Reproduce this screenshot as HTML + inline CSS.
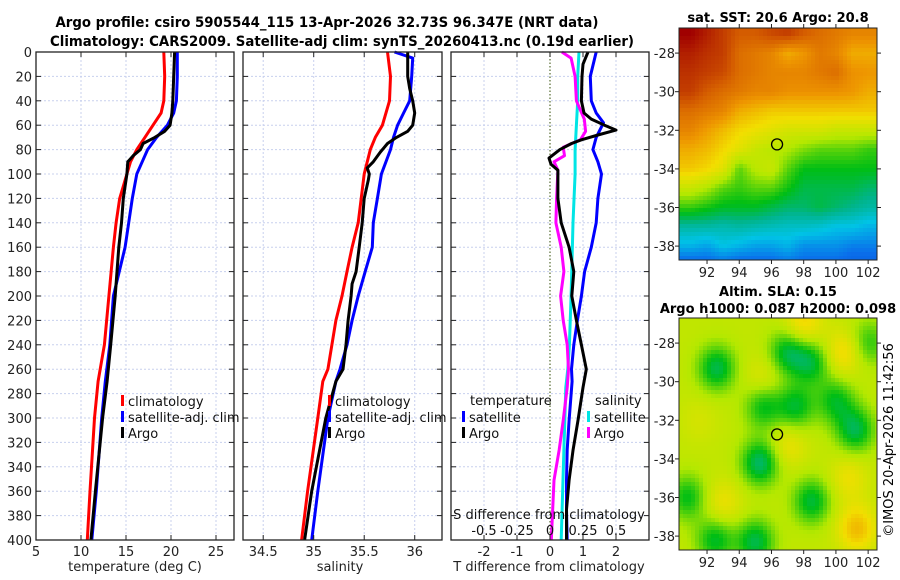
<!DOCTYPE html>
<html><head><meta charset="utf-8"><style>
html,body{margin:0;padding:0;background:#fff;}
svg{display:block;font-family:"DejaVu Sans","Liberation Sans",sans-serif;}
</style></head><body>
<svg id="fig" width="900" height="580" viewBox="0 0 900 580" xmlns="http://www.w3.org/2000/svg">
<rect x="0" y="0" width="900" height="580" fill="#fff"/>
<text x="327" y="27" font-size="14" font-weight="bold" text-anchor="middle" textLength="543" lengthAdjust="spacingAndGlyphs">Argo profile: csiro 5905544_115 13-Apr-2026 32.73S 96.347E (NRT data)</text>
<text x="342" y="46" font-size="14" font-weight="bold" text-anchor="middle" textLength="584" lengthAdjust="spacingAndGlyphs">Climatology: CARS2009. Satellite-adj clim: synTS_20260413.nc (0.19d earlier)</text>
<g id="g1"></g>
<g id="g2"></g>
<g id="g3"></g>
<g id="m1"></g>
<g id="m2"></g>
<text x="778" y="22" font-size="13" font-weight="bold" text-anchor="middle">sat. SST: 20.6 Argo: 20.8</text>
<text x="778" y="296" font-size="13" font-weight="bold" text-anchor="middle">Altim. SLA: 0.15</text>
<text x="778" y="313" font-size="13" font-weight="bold" text-anchor="middle">Argo h1000: 0.087 h2000: 0.098</text>
<text x="0" y="0" font-size="13" text-anchor="middle" transform="translate(893,440) rotate(-90)">©IMOS 20-Apr-2026 11:42:56</text>
</svg>
<script>
// ---------- profile data ----------
const tPres = [0,20,40,50,60,70,80,90,100,120,140,160,200,240,270,300,360,400];
const tClim = [19.2,19.3,19.2,18.9,18.0,17.1,16.2,15.5,15.1,14.3,13.9,13.6,13.1,12.6,11.9,11.5,11.0,10.7];
const tSat  = [20.7,20.7,20.6,20.3,19.6,18.4,17.4,16.8,16.2,15.7,15.3,14.9,13.6,13.2,12.7,12.3,11.7,11.2];
const tArgoPres = [0,20,40,50,60,65,70,75,80,85,90,100,120,140,160,200,240,270,300,360,400];
const tArgo = [20.4,20.3,20.2,20.1,19.9,19.3,18.2,16.9,16.6,15.8,15.2,15.1,14.7,14.5,14.2,13.8,13.3,12.9,12.4,11.6,11.1];

const sPres = [0,20,40,60,70,80,100,120,140,160,180,200,220,240,260,270,300,360,400];
const sClim = [35.73,35.76,35.75,35.68,35.61,35.56,35.50,35.47,35.44,35.38,35.33,35.28,35.22,35.18,35.14,35.09,35.04,34.94,34.88];
const sSatPres = [0,5,20,40,50,60,70,80,100,120,140,160,180,200,220,240,260,270,300,360,400];
const sSat = [35.80,35.98,35.97,35.95,35.89,35.83,35.79,35.76,35.67,35.63,35.59,35.58,35.51,35.44,35.38,35.33,35.26,35.22,35.14,35.04,34.98];
const sArgoPres = [0,20,30,40,50,60,65,70,75,82,90,95,100,105,120,140,160,180,190,200,220,240,260,270,300,360,400];
const sArgo = [35.93,35.93,35.95,35.98,36.00,35.98,35.93,35.82,35.73,35.66,35.59,35.53,35.55,35.54,35.50,35.48,35.45,35.42,35.38,35.37,35.34,35.32,35.29,35.22,35.12,34.98,34.91];

const dPres = [0,20,40,50,58,70,80,90,100,120,140,160,180,200,220,240,260,270,302,326,351,375,400];
const dTSat = [1.40,1.22,1.25,1.40,1.62,1.40,1.30,1.45,1.56,1.45,1.40,1.25,1.05,0.95,0.83,0.72,0.65,0.67,0.58,0.52,0.50,0.50,0.52];
const dArgoPres = [0,10,20,40,50,55,60,64,68,72,75,80,87,92,97,120,140,160,180,200,220,240,260,275,302,326,351,375,400];
const dTArgo = [1.15,1.00,0.97,0.95,1.03,1.25,1.65,2.00,1.45,0.95,0.65,0.30,-0.03,0.03,0.24,0.24,0.34,0.58,0.72,0.66,0.80,0.95,1.10,1.00,0.85,0.70,0.58,0.50,0.50];
const dSPres = [0,20,40,60,80,100,140,200,240,260,275,326,400];
const dSSat = [0.22,0.21,0.21,0.20,0.19,0.19,0.174,0.16,0.147,0.135,0.12,0.105,0.085];
const dSArgoPres = [0,5,20,40,55,65,72,78,85,90,97,120,140,160,180,200,220,240,260,275,302,326,351,400];
const dSArgo = [0.09,0.16,0.19,0.20,0.26,0.27,0.23,0.10,0.11,0.03,0.06,0.05,0.045,0.085,0.105,0.08,0.10,0.13,0.14,0.13,0.10,0.07,0.03,0.01];

const yTicks = [0,20,40,60,80,100,120,140,160,180,200,220,240,260,280,300,320,340,360,380,400];
const tTicks = [5,10,15,20,25];
const sTicks = [34.5,35,35.5,36];
const dTicks = [-2,-1,0,1,2];
const dSTickLabels = ['-0.5','-0.25','0','0.25','0.5'];

// ---------- map data ----------
const sstLon = [91,92,93,94,95,96,97,98,99,100,101,102];
const sstLat = [-27,-28,-29,-30,-31,-32,-33,-34,-35,-36,-37,-38,-38.7];
const sstVal = [
[1.0,0.95,0.9,0.85,0.85,0.88,0.9,0.85,0.82,0.8,0.78,0.78],
[0.95,0.92,0.9,0.82,0.8,0.78,0.72,0.75,0.8,0.78,0.72,0.72],
[0.92,0.9,0.88,0.82,0.8,0.78,0.78,0.78,0.8,0.82,0.76,0.75],
[0.9,0.85,0.82,0.8,0.78,0.78,0.76,0.76,0.76,0.76,0.75,0.72],
[0.82,0.8,0.78,0.72,0.7,0.68,0.68,0.68,0.68,0.68,0.68,0.68],
[0.78,0.74,0.7,0.66,0.64,0.62,0.6,0.6,0.6,0.58,0.58,0.58],
[0.72,0.7,0.66,0.62,0.58,0.56,0.55,0.52,0.5,0.5,0.5,0.48],
[0.68,0.66,0.62,0.5,0.56,0.58,0.5,0.45,0.45,0.45,0.45,0.45],
[0.58,0.55,0.5,0.48,0.5,0.5,0.46,0.42,0.42,0.42,0.42,0.4],
[0.48,0.46,0.44,0.44,0.44,0.42,0.4,0.4,0.42,0.4,0.38,0.36],
[0.36,0.36,0.35,0.36,0.35,0.34,0.33,0.33,0.32,0.3,0.3,0.28],
[0.28,0.26,0.3,0.28,0.26,0.26,0.28,0.24,0.24,0.24,0.22,0.22],
[0.2,0.2,0.22,0.2,0.2,0.2,0.22,0.2,0.2,0.2,0.18,0.18]];
const slaBase = 0.57;
const blobLon = [92.6,95.3,97.0,98.5,95.5,97.5,100.0,101.2,98.5,92.5,95.0,90.8,102.0,98.0,100.5,101.3,93.0,97.0,100.8,95.5,91.5];
const blobLat = [-29.3,-34.2,-28.5,-29.0,-31.3,-31.3,-31.0,-32.5,-36.2,-38.2,-38.3,-36.0,-28.0,-27.0,-28.5,-37.6,-36.3,-33.3,-35.0,-29.8,-32.0];
const blobAmp = [-0.15,-0.17,-0.14,-0.13,-0.12,-0.13,-0.12,-0.15,-0.14,-0.13,-0.15,-0.12,-0.1,0.1,0.1,0.13,0.07,0.07,0.07,0.05,0.03];
const mapLonTicks = [92,94,96,98,100,102];
const mapLatTicks = [-28,-30,-32,-34,-36,-38];
const argoLon = 96.347, argoLat = -32.73;

// ---------- helpers ----------
const NS='http://www.w3.org/2000/svg';
function mk(parent,tag,attrs){const e=document.createElementNS(NS,tag);for(const k in attrs)e.setAttribute(k,attrs[k]);parent.appendChild(e);return e;}
const Y0=52, Y1=540;
const yS = p => Y0 + p*(Y1-Y0)/400;

function panel(g,x0,x1,xmin,xmax,ticks){
  const xs = v => x0 + (v-xmin)*(x1-x0)/(xmax-xmin);
  yTicks.forEach(p=>{
    const l=mk(g,'line',{x1:x0,x2:x1,y1:yS(p),y2:yS(p),stroke:'#c8d0ee','stroke-width':1,'stroke-dasharray':'2,2'});
    
    
  });
  ticks.forEach(v=>{
    const l=mk(g,'line',{x1:xs(v),x2:xs(v),y1:Y0,y2:Y1,stroke:'#c8d0ee','stroke-width':1,'stroke-dasharray':'2,2'});
    
    
  });
  return xs;
}
function frame(g,x0,x1,xs,ticks,labels,showY){
  const f=mk(g,'rect',{x:x0,y:Y0,width:x1-x0,height:Y1-Y0,fill:'none',stroke:'#222','stroke-width':1.3});
  
  
  yTicks.forEach(p=>{
    mk(g,'line',{x1:x0,x2:x0+5,y1:yS(p),y2:yS(p),stroke:'#222'});
    mk(g,'line',{x1:x1-5,x2:x1,y1:yS(p),y2:yS(p),stroke:'#222'});
    if(showY){
      const t=mk(g,'text',{x:x0-4,y:yS(p)+5,'font-size':13,'text-anchor':'end',fill:'#222'});
      t.textContent=p;
      
      
    }
  });
  ticks.forEach((v,i)=>{
    mk(g,'line',{x1:xs(v),x2:xs(v),y1:Y1-5,y2:Y1,stroke:'#222'});
    mk(g,'line',{x1:xs(v),x2:xs(v),y1:Y0,y2:Y0+5,stroke:'#222'});
    const t=mk(g,'text',{x:xs(v),y:Y1+16,'font-size':13,'text-anchor':'middle',fill:'#222'});
    t.textContent=labels[i];
    
    
  });
}
function line(g,xs,vals,pres,color,name,w){
  const pts=vals.map((v,i)=>xs(v).toFixed(1)+','+yS(pres[i]).toFixed(1)).join(' ');
  const pl=mk(g,'polyline',{points:pts,fill:'none',stroke:color,'stroke-width':w||3,'stroke-linejoin':'round'});
  
  
}
function legendEntry(g,x,y,color,label){
  const r=mk(g,'rect',{x:x,y:y-11,width:3,height:11,fill:color});
  
  
  const t=mk(g,'text',{x:x+7,y:y,'font-size':13,fill:'#111'});
  t.textContent=label;
  
  
}
function xlabel(g,x,y,s){const t=mk(g,'text',{x:x,y:y,'font-size':13,'text-anchor':'middle',fill:'#222'});t.textContent=s;}

// ---------- panel 1 ----------
const g1=document.getElementById('g1');
const xs1=panel(g1,36,234,5,27,tTicks);
line(g1,xs1,tClim,tPres,'#ff0000','temp-climatology-line');
line(g1,xs1,tSat,tPres,'#0000ff','temp-satellite-line');
line(g1,xs1,tArgo,tArgoPres,'#000','temp-argo-line');
frame(g1,36,234,xs1,tTicks,tTicks.map(String),true);
legendEntry(g1,121,406,'#ff0000','climatology');
legendEntry(g1,121,422,'#0000ff','satellite-adj. clim');
legendEntry(g1,121,438,'#000','Argo');
xlabel(g1,135,571,'temperature (deg C)');

// ---------- panel 2 ----------
const g2=document.getElementById('g2');
const xs2=panel(g2,243,442,34.3,36.27,sTicks);
line(g2,xs2,sClim,sPres,'#ff0000','sal-climatology-line');
line(g2,xs2,sSat,sSatPres,'#0000ff','sal-satellite-line');
line(g2,xs2,sArgo,sArgoPres,'#000','sal-argo-line');
frame(g2,243,442,xs2,sTicks,['34.5','35','35.5','36'],false);
legendEntry(g2,328,406,'#ff0000','climatology');
legendEntry(g2,328,422,'#0000ff','satellite-adj. clim');
legendEntry(g2,328,438,'#000','Argo');
xlabel(g2,340,571,'salinity');

// ---------- panel 3 ----------
const g3=document.getElementById('g3');
const xs3=panel(g3,451,649,-3,3,[-2,-1,1,2]);
const xsS = v => xs3(v*4);
const z=mk(g3,'line',{x1:xs3(0),x2:xs3(0),y1:Y0,y2:Y1,stroke:'#556b2f','stroke-width':1.2,'stroke-dasharray':'1.5,2'});


line(g3,xsS,dSSat,dSPres,'#00e5e5','sal-diff-satellite-line');
line(g3,xsS,dSArgo,dSArgoPres,'#ff00ff','sal-diff-argo-line');
line(g3,xs3,dTSat,dPres,'#0000ff','temp-diff-satellite-line');
line(g3,xs3,dTArgo,dArgoPres,'#000','temp-diff-argo-line');
frame(g3,451,649,xs3,dTicks,dTicks.map(String),false);
{const t=mk(g3,'text',{x:470,y:405,'font-size':13,fill:'#111'});t.textContent='temperature';}
{const t=mk(g3,'text',{x:595,y:405,'font-size':13,fill:'#111'});t.textContent='salinity';}
legendEntry(g3,462,422,'#0000ff','satellite');
legendEntry(g3,462,438,'#000','Argo');
legendEntry(g3,587,422,'#00e5e5','satellite');
legendEntry(g3,587,438,'#ff00ff','Argo');
{const t=mk(g3,'text',{x:549,y:519,'font-size':13,'text-anchor':'middle',fill:'#111'});t.textContent='S difference from climatology';}
[-0.5,-0.25,0,0.25,0.5].forEach((v,i)=>{
  const t=mk(g3,'text',{x:xsS(v),y:535,'font-size':13,'text-anchor':'middle',fill:'#111'});
  t.textContent=dSTickLabels[i];
  
  
});
xlabel(g3,549,571,'T difference from climatology');

// ---------- maps ----------
const cmapStops=[[0,[0,50,190]],[0.2,[10,110,235]],[0.3,[0,195,230]],[0.38,[0,180,140]],[0.45,[0,190,20]],[0.55,[180,232,0]],[0.65,[242,222,0]],[0.75,[238,150,0]],[0.85,[212,92,0]],[1,[160,0,0]]];
function cmap(v){
  v=Math.max(0,Math.min(1,v));
  for(let i=0;i<cmapStops.length-1;i++){
    const [a,ca]=cmapStops[i],[b,cb]=cmapStops[i+1];
    if(v<=b){const t=(v-a)/(b-a);return 'rgb('+ca.map((c,k)=>Math.round(c+(cb[k]-c)*t)).join(',')+')';}
  }
  return 'rgb(160,0,0)';
}
const MX0=679,MX1=877,LON0=90.26,LON1=102.55,LAT0=-26.7,LAT1=-38.72;
function drawMap(g,y0,y1,field){
  const lx=lon=>MX0+(lon-LON0)*(MX1-MX0)/(LON1-LON0);
  const ly=lat=>y0+(lat-LAT0)*(y1-y0)/(LAT1-LAT0);
  const c=4;
  for(let y=y0;y<y1;y+=c){
    for(let x=MX0;x<MX1;x+=c){
      const lon=LON0+(x+c/2-MX0)*(LON1-LON0)/(MX1-MX0);
      const lat=LAT0+(y+c/2-y0)*(LAT1-LAT0)/(y1-y0);
      const r=mk(g,'rect',{x:x,y:y,width:Math.min(c,MX1-x)+0.3,height:Math.min(c,y1-y)+0.3,fill:cmap(field(lon,lat))});
      
      
    }
  }
  const f=mk(g,'rect',{x:MX0,y:y0,width:MX1-MX0,height:y1-y0,fill:'none',stroke:'#222','stroke-width':1});
  
  
  mapLonTicks.forEach(v=>{
    mk(g,'line',{x1:lx(v),x2:lx(v),y1:y1,y2:y1+4,stroke:'#222'});
    mk(g,'line',{x1:lx(v),x2:lx(v),y1:y0-4,y2:y0,stroke:'#222'});
    const t=mk(g,'text',{x:lx(v),y:y1+17,'font-size':13,'text-anchor':'middle',fill:'#222'});
    t.textContent=v;
    
    
  });
  mapLatTicks.forEach(v=>{
    mk(g,'line',{x1:MX0-4,x2:MX0,y1:ly(v),y2:ly(v),stroke:'#222'});
    mk(g,'line',{x1:MX1,x2:MX1+4,y1:ly(v),y2:ly(v),stroke:'#222'});
    const t=mk(g,'text',{x:MX0-4,y:ly(v)+5,'font-size':13,'text-anchor':'end',fill:'#222'});
    t.textContent=v;
    
    
  });
  const m=mk(g,'circle',{cx:lx(argoLon),cy:ly(argoLat),r:5.5,fill:'none',stroke:'#000','stroke-width':1.3});
  
  
}
function sstField(lon,lat){
  let fi=(lon-sstLon[0]); fi=Math.max(0,Math.min(sstLon.length-1.001,fi));
  let fj=0;
  for(let j=0;j<sstLat.length-1;j++){ if(lat>sstLat[0]){fj=0;break;} if(lat<=sstLat[j]&&lat>=sstLat[j+1]){fj=j+(sstLat[j]-lat)/(sstLat[j]-sstLat[j+1]);break;} fj=sstLat.length-1.001;}
  const i=Math.floor(fi),j=Math.floor(fj),a=fi-i,b=fj-j;
  const j2=Math.min(j+1,sstLat.length-1),i2=Math.min(i+1,sstLon.length-1);
  return (1-a)*(1-b)*sstVal[j][i]+a*(1-b)*sstVal[j][i2]+(1-a)*b*sstVal[j2][i]+a*b*sstVal[j2][i2];
}
function slaField(lon,lat){
  let v=slaBase;
  for(let k=0;k<blobLon.length;k++){
    const d2=(lon-blobLon[k])**2+(lat-blobLat[k])**2;
    v+=blobAmp[k]*Math.exp(-d2/1.4);
  }
  return v;
}
drawMap(document.getElementById('m1'),28,260,sstField);
drawMap(document.getElementById('m2'),318,550,slaField);
</script>
</body></html>
